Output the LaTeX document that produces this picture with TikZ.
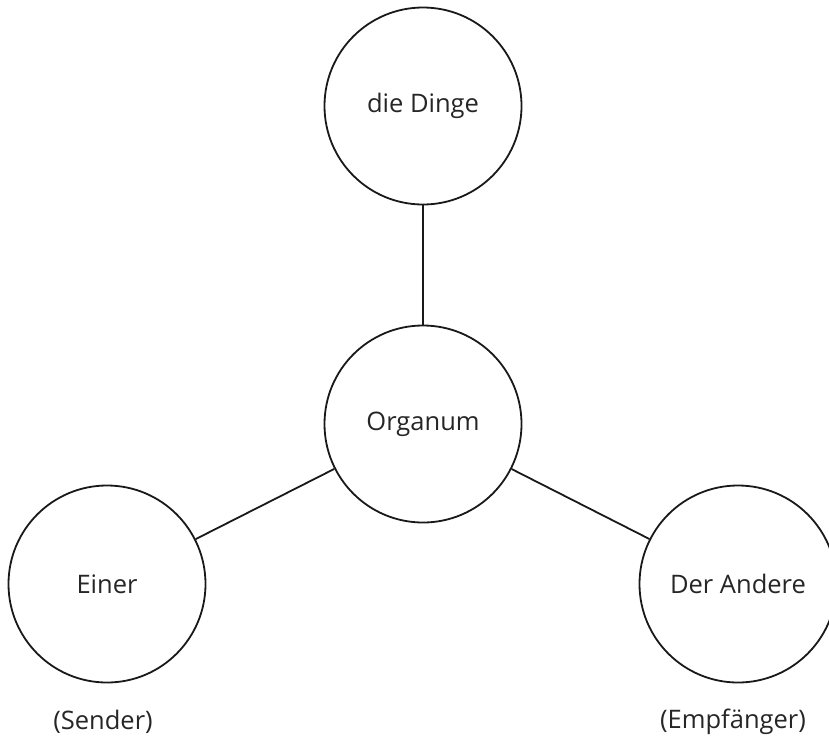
\documentclass[tikz,border=0pt]{standalone}
\usepackage{fontspec}
\setmainfont{Open Sans}
\begin{document}
\begin{tikzpicture}[x=1pt,y=-1pt,
  ball/.style={circle,draw=black!90,line width=1.8pt,minimum size=197pt,inner sep=0pt,font=\fontsize{25.5}{30}\selectfont,text=black!85},
  link/.style={draw=black!90,line width=1.8pt},
  caption/.style={font=\fontsize{25.5}{30}\selectfont,text=black!85}]
\useasboundingbox (0,0) rectangle (829,742);
\node[ball] (dinge) at (423,106) {die Dinge};
\node[ball] (organum) at (423,424) {Organum};
\node[ball] (einer) at (107,584) {Einer};
\node[ball] (andere) at (738,584) {Der Andere};
\node[caption] (sender) at (103,722) {(Sender)};
\node[caption] (empf) at (733,722) {(Empfänger)};
\draw[link] (dinge) -- (organum);
\draw[link] (organum) -- (einer);
\draw[link] (organum) -- (andere);
\end{tikzpicture}
\end{document}
